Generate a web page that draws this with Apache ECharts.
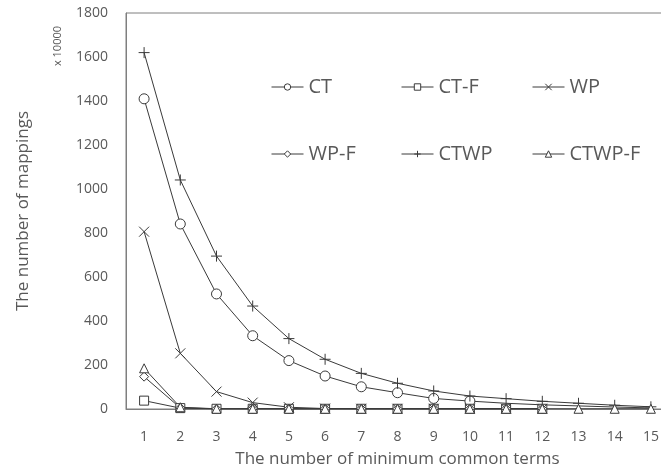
<!DOCTYPE html>
<html>
<head>
<meta charset="utf-8">
<script src="https://cdn.jsdelivr.net/npm/echarts@6/dist/echarts.min.js"></script>
<style>
  * { margin: 0; padding: 0; }
  body { background: #fff; }
</style>
</head>
<body>
<div id="chartId" style="width: 661px;height: 471px;"></div>
<script>
// x categories: minimum common terms
const terms = ["1", "2", "3", "4", "5", "6", "7", "8", "9", "10", "11", "12", "13", "14", "15"];
const yTicks = [0, 200, 400, 600, 800, 1000, 1200, 1400, 1600, 1800];

// number of mappings (x 10000)
const ct = [1410, 841, 523, 333, 220, 150, 101, 74, 48, 36, 26, 19, 14, 9, 5];
const ctF = [38, 4, 1, 1, 1, 1, 1, 1, 1, 1, 1, 1];
const wp = [806, 253, 79, 29, 8, 2, 1, 1, 1, 1, 1, 1];
const wpF = [147, 5, 1, 1, 1, 1, 1, 1, 1, 1, 1, 1];
const ctwp = [1620, 1041, 695, 468, 320, 226, 162, 117, 82, 59, 47, 35, 26, 17, 10];
const ctwpF = [185, 8, 1, 1, 1, 1, 1, 1, 1, 1, 1, 1, 1, 1, 1];

const lineColor = "#3a3a3a";
const textColor = "#595959";
const font = "Open Sans";

// CT markers only drawn up to 10 in the original
function markedUpTo(arr, n) {
  return arr.map((v, i) => (i < n ? v : { value: v, symbol: "none" }));
}

function makeSeries(name, data, symbol, size) {
  return {
    name: name,
    type: "line",
    data: data,
    symbol: symbol,
    symbolSize: size,
    showSymbol: true,
    animation: false,
    lineStyle: { color: lineColor, width: 1 },
    itemStyle: { color: "#fff", borderColor: lineColor, borderWidth: 1 }
  };
}

function makeLegend(name, left, top) {
  return {
    data: [name],
    left: left,
    top: top,
    itemWidth: 32,
    itemHeight: 8,
    itemGap: 4,
    lineStyle: { width: 1, color: lineColor },
    itemStyle: { borderWidth: 1 },
    textStyle: { fontSize: 20, color: textColor, fontFamily: font },
    selectedMode: false
  };
}

let chart = echarts.init(document.getElementById("chartId"));
let option = {
  backgroundColor: "#fff",
  animation: false,
  grid: {
    left: 126,
    right: -8,
    top: 13,
    bottom: 62,
    outerBoundsMode: "none",
    show: true,
    borderColor: "#7f7f7f",
    borderWidth: 1
  },
  legend: [
    makeLegend("CT", 266, 72),
    makeLegend("CT-F", 396, 72),
    makeLegend("WP", 527, 72),
    makeLegend("WP-F", 266, 139),
    makeLegend("CTWP", 396, 139),
    makeLegend("CTWP-F", 527, 139)
  ],
  xAxis: {
    type: "category",
    data: terms,
    boundaryGap: true,
    name: "The number of minimum common terms",
    nameLocation: "middle",
    nameGap: 42,
    nameTextStyle: { fontSize: 17, color: textColor, fontFamily: font },
    axisLine: { lineStyle: { color: "#7f7f7f" } },
    axisTick: { show: false },
    axisLabel: { fontSize: 14, color: textColor, fontFamily: font, margin: 21 }
  },
  yAxis: {
    type: "value",
    min: yTicks[0],
    max: yTicks[yTicks.length - 1],
    interval: 200,
    name: "The number of mappings",
    nameLocation: "middle",
    nameGap: 94,
    nameTextStyle: { fontSize: 17, color: textColor, fontFamily: font },
    axisLine: { show: true, lineStyle: { color: "#7f7f7f" } },
    axisTick: { show: false },
    splitLine: { show: false },
    axisLabel: {
      fontSize: 14,
      color: textColor,
      fontFamily: font,
      margin: 18,
      formatter: v => String(v)
    }
  },
  graphic: [
    {
      type: "text",
      x: 58,
      y: 46,
      rotation: Math.PI / 2,
      style: {
        text: "x 10000",
        fontSize: 11,
        fill: textColor,
        fontFamily: font,
        align: "center",
        verticalAlign: "middle"
      }
    }
  ],
  series: [
    makeSeries("CT", markedUpTo(ct, 10), "circle", 10),
    makeSeries("CT-F", ctF, "rect", 9),
    makeSeries("WP", wp, "path://M0,0L10,10M10,0L0,10", 10),
    makeSeries("WP-F", wpF, "diamond", 9),
    makeSeries("CTWP", ctwp, "path://M5,0L5,10M0,5L10,5", 11),
    makeSeries("CTWP-F", ctwpF, "triangle", 9)
  ]
};
chart.setOption(option);
</script>
</body>
</html>
